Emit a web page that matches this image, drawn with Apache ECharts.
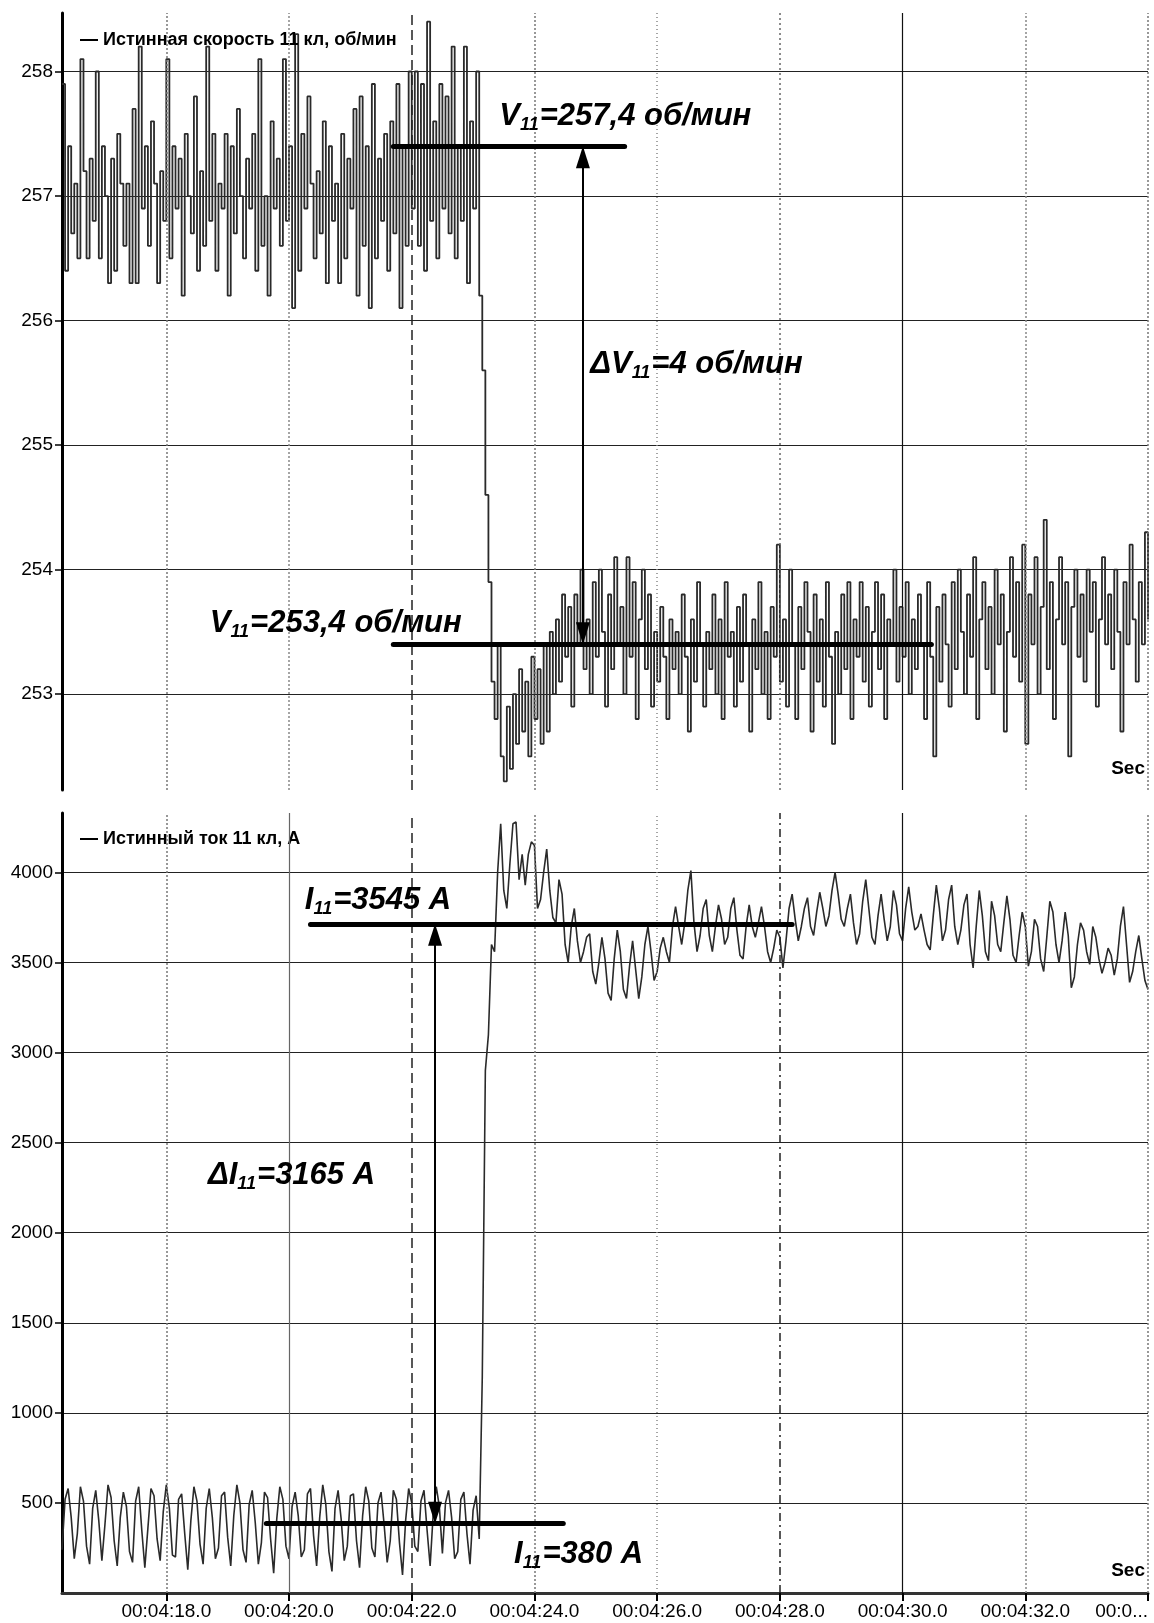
<!DOCTYPE html>
<html>
<head>
<meta charset="utf-8">
<title>Истинная скорость и ток 11 кл</title>
<script src="https://cdn.jsdelivr.net/npm/echarts/dist/echarts.min.js"></script>
<style>
  html, body { margin: 0; padding: 0; background: #fff; }
  #chart { width: 1154px; height: 1623px; }
</style>
</head>
<body>
<div id="chart"></div>
<script>
// sampling clock of the recorder, seconds after 00:04:00
var T0 = 16.3;
var DT = 0.05;

var SPEED_NAME = 'Истинная скорость 11 кл, об/мин';
var CURRENT_NAME = 'Истинный ток 11 кл, А';

// speed, rpm
var speed = [
  257.9, 256.4, 257.4, 256.7, 257.1, 256.5, 258.1, 257.2, 256.5, 257.3,
  256.8, 258.0, 256.5, 257.4, 257.0, 256.3, 257.3, 256.4, 257.5, 257.1,
  256.6, 257.1, 256.3, 257.7, 256.3, 258.2, 256.9, 257.4, 256.6, 257.6,
  257.1, 256.3, 257.2, 256.8, 258.1, 256.5, 257.4, 256.9, 257.3, 256.2,
  257.5, 257.0, 256.7, 257.8, 256.4, 257.2, 256.6, 258.2, 256.8, 257.5,
  256.4, 257.1, 256.9, 257.5, 256.2, 257.4, 256.7, 257.7, 257.0, 256.5,
  257.3, 256.9, 257.5, 256.4, 258.1, 256.6, 257.0, 256.2, 257.6, 256.9,
  257.3, 256.6, 258.1, 256.8, 257.4, 256.1, 258.3, 256.4, 257.5, 256.9,
  257.8, 257.1, 256.5, 257.2, 256.7, 257.6, 256.3, 257.4, 256.8, 257.1,
  256.3, 257.5, 256.5, 257.3, 256.9, 257.7, 256.2, 257.8, 256.6, 257.4,
  256.1, 257.9, 256.5, 257.3, 256.8, 257.5, 256.4, 257.6, 256.7, 257.9,
  256.1, 257.4, 256.6, 258.0, 256.9, 258.0, 256.6, 257.9, 256.4, 258.4,
  256.8, 257.6, 256.5, 257.9, 256.9, 257.8, 256.7, 258.2, 256.5, 257.4,
  256.8, 258.2, 256.3, 257.6, 256.9, 258.0, 256.2,
  255.6, 254.6, 253.9, 253.1, 252.8, 253.4, 252.5, 252.3, 252.9, 252.4,
  253.0, 252.6, 253.2, 252.7, 253.1, 252.5, 253.3, 252.8, 253.2, 252.6,
  253.4, 252.7, 253.5, 253.0, 253.6, 253.1, 253.8, 253.3, 253.7, 252.9,
  253.8, 253.4, 254.0, 253.2,
  253.6, 253.0, 253.9, 253.3, 254.0, 253.5, 252.9, 253.8, 253.2, 254.1,
  253.4, 253.7, 253.0, 254.1, 253.3, 253.9, 252.8, 253.6, 254.0, 253.2,
  253.8, 252.9, 253.5, 253.1, 253.7, 253.3, 252.8, 253.6, 253.2, 253.5,
  253.0, 253.8, 253.3, 252.7, 253.6, 253.1, 253.9, 253.4, 252.9, 253.5,
  253.2, 253.8, 253.0, 253.6, 252.8, 253.9, 253.3, 253.5, 252.9, 253.7,
  253.1, 253.8, 253.4, 252.7, 253.6, 253.2, 253.9, 253.0, 253.5, 252.8,
  253.7, 253.3, 254.2, 253.1, 253.6, 252.9, 254.0, 253.4, 252.8, 253.7,
  253.2, 253.9, 253.5, 252.7, 253.8, 253.1, 253.6, 252.9, 253.9, 253.3,
  252.6, 253.5, 253.0, 253.8, 253.2, 253.9, 252.8, 253.6, 253.3, 253.9,
  253.1, 253.7, 252.9, 253.5, 253.9, 253.2, 253.8, 252.8, 253.6, 253.4,
  254.0, 253.1, 253.7, 253.3, 253.9, 253.0, 253.6, 253.2, 253.8, 253.4,
  252.8, 253.9, 253.3, 252.5, 253.7, 253.1, 253.8, 253.4, 252.9, 253.9,
  253.2, 254.0, 253.5, 253.0, 253.8, 253.3, 254.1, 252.8, 253.6, 253.9,
  253.2, 253.7, 253.0, 254.0, 253.4, 253.8, 252.7, 253.5, 254.1, 253.3,
  253.9, 253.1, 254.2, 252.6, 253.8, 253.4, 254.1, 253.0, 253.7, 254.4,
  253.2, 253.9, 252.8, 253.6, 254.1, 253.4, 253.9, 252.5, 253.7, 254.0,
  253.3, 253.8, 253.1, 254.0, 253.5, 253.9, 252.9, 253.6, 254.1, 253.4,
  253.8, 253.2, 254.0, 253.5, 252.7, 253.9, 253.4, 254.2, 253.6, 253.1,
  253.9, 253.4, 254.3, 253.6
];

// current, A
var current = [
  240, 520, 580, 420, 190,  330, 590, 510, 260, 160,  470, 570, 400, 180,
  380, 600, 530, 290, 150,  420, 560, 480, 230, 170,  510, 590, 350, 140,
  360, 580, 540, 300, 180,  450, 600, 470, 210, 200,  520, 550, 330, 130,
  400, 590, 510, 270, 160,  470, 580, 420, 190, 250,  540, 560, 310, 150,
  430, 600, 500, 240, 170,  490, 570, 390, 160, 280,  560, 530, 300, 110,
  410, 590, 520, 260, 190,  480, 560, 430, 200, 240,  550, 580, 320, 150,
  420, 600, 490, 230, 120,  470, 570, 410, 180, 260,  540, 550, 290, 140,
  430, 590, 510, 250, 200,  500, 560, 380, 170, 290,  570, 520, 280, 100,
  400, 580, 500, 260, 230,  510, 570, 350, 150,  440, 590, 480, 220,
  500, 570, 420, 190, 230,  520, 560, 330, 160,  460, 540, 300,
  1200, 2900, 3100, 3600, 3560, 4000, 4270, 3900, 3800, 4050,
  4270, 4280, 3960, 4100, 3930, 4100, 4170, 4150, 3800, 3850,
  4000, 4130, 3900, 3750, 3720, 3960, 3880, 3600, 3500, 3700,
  3800, 3620, 3500, 3560, 3640, 3660, 3450, 3380, 3500, 3640,
  3520, 3330, 3290, 3520, 3680, 3560, 3350, 3300, 3480, 3620,
  3460, 3300, 3420, 3600, 3700, 3560, 3400, 3450, 3580, 3640,
  3560, 3500, 3700, 3810, 3700, 3600, 3720, 3900, 4010, 3720,
  3560, 3650, 3800, 3850, 3650, 3560, 3700, 3820, 3740, 3600,
  3640, 3800, 3860, 3680, 3540, 3520, 3700, 3820, 3700, 3640,
  3720, 3810, 3700, 3560, 3500, 3580, 3680, 3640, 3470, 3620,
  3800, 3880, 3740, 3620, 3700, 3800, 3860, 3700, 3650, 3780,
  3890, 3800, 3700, 3760, 3900, 4000, 3880, 3740, 3700, 3800,
  3880, 3720, 3600, 3660, 3840, 3960, 3800, 3640, 3600, 3760,
  3880, 3740, 3620, 3700, 3900, 3820, 3660, 3620, 3800, 3920,
  3780, 3680, 3700, 3770, 3680, 3600, 3570, 3760, 3930, 3800,
  3620, 3680, 3850, 3930, 3700, 3600, 3680, 3820, 3880, 3600,
  3470, 3700, 3900, 3760, 3560, 3510, 3840, 3760, 3600, 3560,
  3720, 3870, 3740, 3540, 3500, 3650, 3780, 3700, 3480, 3560,
  3740, 3700, 3520, 3450, 3640, 3840, 3780, 3600, 3500, 3620,
  3780, 3650, 3360, 3420, 3600, 3720, 3680, 3560, 3490, 3700,
  3640, 3520, 3440, 3500, 3580, 3540, 3430, 3520, 3700, 3810,
  3600, 3390, 3450, 3560, 3650, 3520, 3400, 3350
];

var tickTimes = [18, 20, 22, 24, 26, 28, 30, 32, 34];
var timeLabels = ['00:04:18.0', '00:04:20.0', '00:04:22.0', '00:04:24.0', '00:04:26.0',
                  '00:04:28.0', '00:04:30.0', '00:04:32.0', '00:0...'];
var speedTicks = [253, 254, 255, 256, 257, 258];
var currentTicks = [500, 1000, 1500, 2000, 2500, 3000, 3500, 4000];

// annotation levels as drawn on the record: [value, from t, to t]
var speedLevels = [[257.4, 21.7, 25.47], [253.4, 21.7, 30.47]];
var speedArrowAt = 24.79;
var currentLevels = [[3715, 20.35, 28.2], [385, 19.63, 24.47]];
var currentArrowAt = 22.38;

var speedNotes = ['{m|V}{s|11}{m|=257,4 об/мин}', '{m|ΔV}{s|11}{m|=4 об/мин}', '{m|V}{s|11}{m|=253,4 об/мин}'];
var speedNotesAt = [[23.42, 257.64], [24.9, 255.65], [18.7, 253.57]];
var currentNotes = ['{m|I}{s|11}{m|=3545 A}', '{m|ΔI}{s|11}{m|=3165 A}', '{m|I}{s|11}{m|=380 A}'];
var currentNotesAt = [[20.25, 3846], [18.67, 2320], [23.66, 215]];

var FONT = '"Liberation Sans", Arial, sans-serif';

var topGridStyles = [
  { color: '#777', type: [2, 2], width: 1.5 },
  { color: '#888', type: [2, 2], width: 1.5 },
  { color: '#222', type: [10, 5], width: 1.5 },
  { color: '#777', type: [2, 2], width: 1.5 },
  { color: '#888', type: [1, 3], width: 1.5 },
  { color: '#666', type: [2, 3], width: 1.5 },
  { color: '#111', type: 'solid', width: 1.2 },
  { color: '#888', type: [2, 2], width: 1.5 },
  { color: '#777', type: [2, 2], width: 1.5 }
];
var bottomGridStyles = [
  { color: '#777', type: [2, 2], width: 1.5 },
  { color: '#666', type: 'solid', width: 1.2 },
  { color: '#222', type: [10, 5], width: 1.5 },
  { color: '#777', type: [2, 2], width: 1.5 },
  { color: '#888', type: [1, 3], width: 1.5 },
  { color: '#222', type: [8, 4, 2, 4], width: 1.5 },
  { color: '#111', type: 'solid', width: 1.2 },
  { color: '#888', type: [2, 2], width: 1.5 },
  { color: '#777', type: [2, 2], width: 1.5 }
];

var RICH = {
  m: { fontFamily: FONT, fontSize: 31, fontStyle: 'italic', fontWeight: 'bold', color: '#000', lineHeight: 36 },
  s: { fontFamily: FONT, fontSize: 18, fontStyle: 'italic', fontWeight: 'bold', color: '#000', lineHeight: 36,
       verticalAlign: 'bottom', padding: [0, 1, 0, 0] }
};

function pairs(values) {
  return values.map(function (v, i) {
    return [Math.round((T0 + i * DT) * 100) / 100, v];
  });
}

function marks(styles, levels, arrowAt) {
  var out = tickTimes.map(function (t, i) {
    return { xAxis: t, lineStyle: styles[i] };
  });
  levels.forEach(function (l) {
    out.push([
      { coord: [l[1], l[0]], lineStyle: { color: '#000', width: 5, type: 'solid', cap: 'round' } },
      { coord: [l[2], l[0]] }
    ]);
  });
  var tip = { symbol: 'triangle', symbolSize: [14, 22], symbolOffset: [0, 11] };
  out.push([
    Object.assign({ coord: [arrowAt, levels[1][0]], lineStyle: { color: '#000', width: 2, type: 'solid' } }, tip),
    Object.assign({ coord: [arrowAt, levels[0][0]] }, tip)
  ]);
  return out;
}

function notes(texts, at) {
  return texts.map(function (txt, i) {
    return { coord: at[i], label: { formatter: txt } };
  });
}

function series(name, values, g, step, width, styles, levels, arrowAt, texts, at) {
  return {
    name: name,
    type: 'line',
    xAxisIndex: g,
    yAxisIndex: g,
    data: pairs(values),
    step: step,
    showSymbol: false,
    symbol: 'none',
    lineStyle: { color: '#2a2a2a', width: width },
    itemStyle: { color: '#000' },
    emphasis: { disabled: true },
    markLine: {
      silent: true,
      symbol: 'none',
      label: { show: false },
      emphasis: { disabled: true },
      data: marks(styles, levels, arrowAt)
    },
    markPoint: {
      silent: true,
      symbol: 'circle',
      symbolSize: 1,
      itemStyle: { color: 'rgba(0,0,0,0)' },
      label: { show: true, position: 'right', distance: 0, rich: RICH },
      data: notes(texts, at)
    }
  };
}

function xAxis(g) {
  return {
    type: 'value',
    gridIndex: g,
    min: T0,
    max: 34,
    axisLine: { show: g === 1, onZero: false, lineStyle: { color: '#333', width: 3 } },
    axisTick: { show: g === 1, customValues: tickTimes, length: 8, lineStyle: { color: '#000', width: 2 } },
    axisLabel: {
      show: g === 1,
      customValues: tickTimes,
      alignMaxLabel: 'right',
      color: '#000',
      fontFamily: FONT,
      fontSize: 19,
      margin: 9,
      formatter: function (v) {
        var k = tickTimes.indexOf(Math.round(v));
        return k < 0 ? '' : timeLabels[k];
      }
    },
    splitLine: { show: false }
  };
}

function yAxis(g, min, max, ticks) {
  return {
    type: 'value',
    gridIndex: g,
    min: min,
    max: max,
    axisLine: { show: true, onZero: false, lineStyle: { color: '#000', width: 3 } },
    axisTick: { show: true, customValues: ticks, length: 7, lineStyle: { color: '#000', width: 1.5 } },
    axisLabel: {
      customValues: ticks, color: '#000', fontFamily: FONT, fontSize: 19, margin: 9,
      formatter: function (v) { return String(v); }
    },
    splitLine: { show: true, lineStyle: { color: '#222', width: 1.2 } }
  };
}

var chart = echarts.init(document.getElementById('chart'));

chart.setOption({
  animation: false,
  backgroundColor: '#fff',
  grid: [
    { left: 62, top: 13, right: 6, height: 777 },
    { left: 62, top: 813, right: 6, height: 780 }
  ],
  legend: [
    { data: [SPEED_NAME], left: 75, top: 26, icon: 'rect', itemWidth: 18, itemHeight: 2, itemGap: 5,
      selectedMode: false, textStyle: { color: '#000', fontFamily: FONT, fontSize: 18, fontWeight: 'bold' } },
    { data: [CURRENT_NAME], left: 75, top: 825, icon: 'rect', itemWidth: 18, itemHeight: 2, itemGap: 5,
      selectedMode: false, textStyle: { color: '#000', fontFamily: FONT, fontSize: 18, fontWeight: 'bold' } }
  ],
  xAxis: [xAxis(0), xAxis(1)],
  yAxis: [yAxis(0, 252.23, 258.47, speedTicks), yAxis(1, 0, 4330, currentTicks)],
  series: [
    series(SPEED_NAME, speed, 0, 'end', 1.8, topGridStyles, speedLevels, speedArrowAt, speedNotes, speedNotesAt),
    series(CURRENT_NAME, current, 1, false, 1.6, bottomGridStyles, currentLevels, currentArrowAt, currentNotes, currentNotesAt)
  ],
  graphic: [
    { type: 'text', right: 9, top: 759, style: { text: 'Sec', font: 'bold 19px ' + FONT, fill: '#000' } },
    { type: 'text', right: 9, top: 1561, style: { text: 'Sec', font: 'bold 19px ' + FONT, fill: '#000' } }
  ]
});
</script>
</body>
</html>
